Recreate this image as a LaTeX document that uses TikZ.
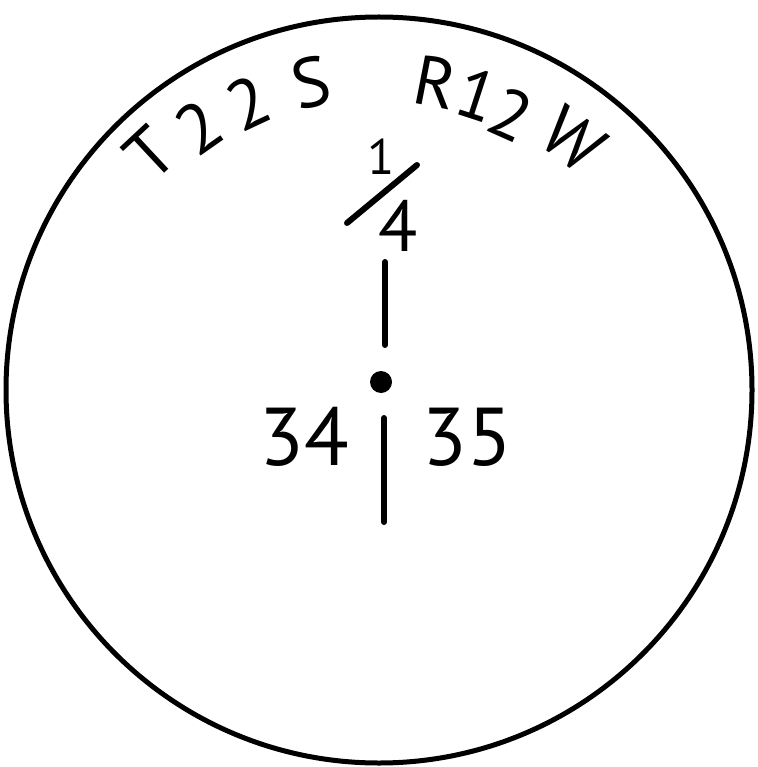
\documentclass[tikz,border=0pt]{standalone}
\usepackage{fontspec}
\setmainfont{PT Sans}
\begin{document}
\begin{tikzpicture}[x=1pt,y=-1pt,
  lbl/.style={inner sep=0pt, font=\fontsize{70}{70}\selectfont},
  digit/.style={inner sep=0pt, font=\fontsize{82}{82}\selectfont},
  frac/.style={inner sep=0pt, font=\fontsize{72}{72}\selectfont},
  stroke/.style={line width=6pt, line cap=round}]
\useasboundingbox (0,0) rectangle (757,767);
\coordinate (c) at (379,390);
\draw[line width=5pt] (c) circle[radius=373];
% township / range
\node[lbl, rotate=43] (t1) at (150,153) {T};
\node[lbl, rotate=35] (t2) at (199,127) {2};
\node[lbl, rotate=25] (t3) at (248,103) {2};
\node[lbl, rotate=13] (t4) at (311,82) {S};
\node[lbl, rotate=-11] (r1) at (436,82) {R};
\node[lbl, rotate=-18] (r2) at (477,95) {1};
\node[lbl, rotate=-24] (r3) at (511,114) {2};
\node[lbl, rotate=-37] (r4) at (573,140) {W};
% fraction 1/4
\node[inner sep=0pt, font=\fontsize{50}{50}\selectfont] (one) at (381,157) {1};
\coordinate (sa) at (347,223);
\coordinate (sb) at (417,165);
\draw[stroke] (sa) -- (sb);
\node[frac] (four) at (398,226) {4};
% line and point
\coordinate (ua) at (385,262);
\coordinate (ub) at (385,345);
\draw[stroke] (ua) -- (ub);
\node[circle, fill=black, inner sep=0pt, minimum size=22pt] (pt) at (381,382) {};
\coordinate (la) at (384,418);
\coordinate (lb) at (384,522);
\draw[stroke] (la) -- (lb);
\node[digit] (s34) at (304,437) {34};
\node[digit] (s35) at (467,437) {35};
\end{tikzpicture}
\end{document}
